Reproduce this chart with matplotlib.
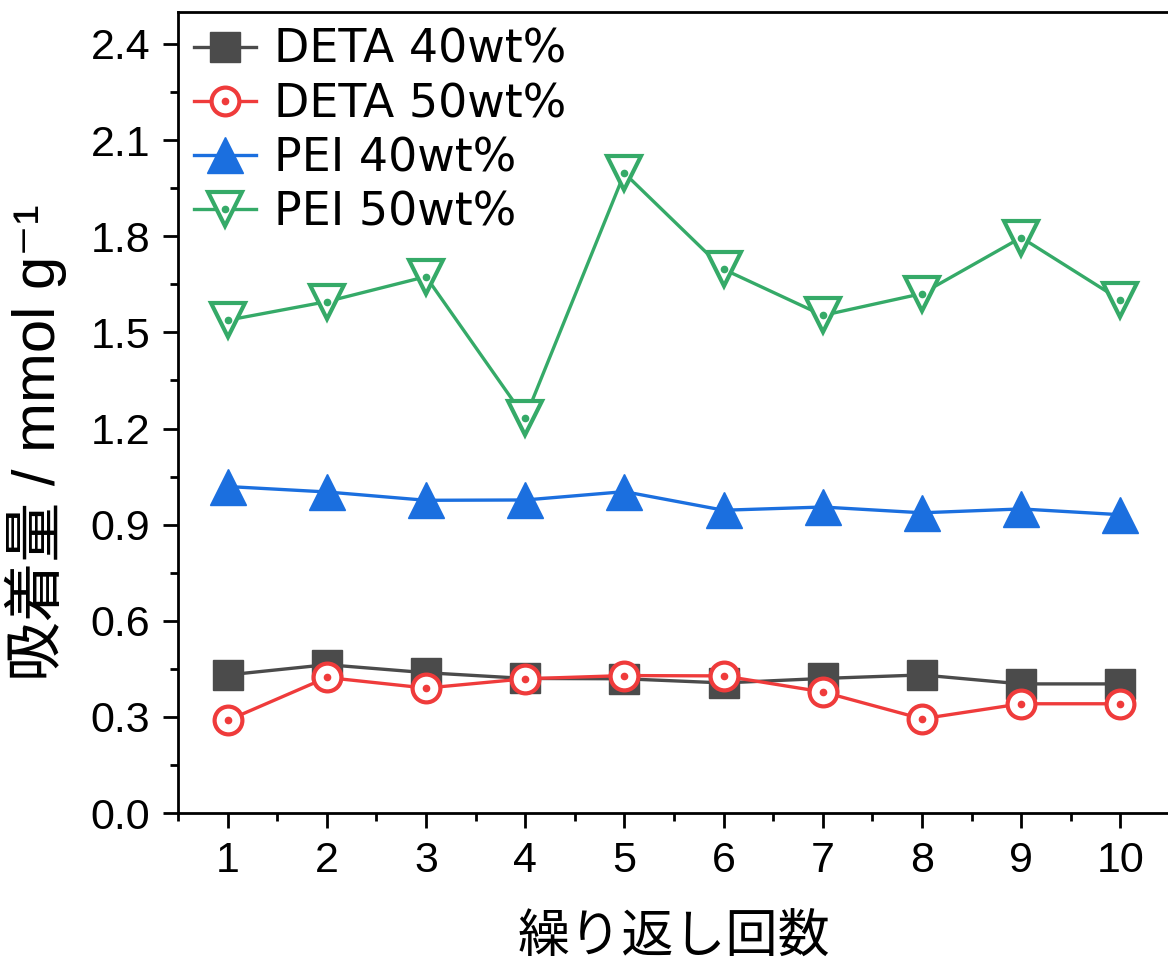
import numpy as np
import matplotlib
matplotlib.use("Agg")
import matplotlib.pyplot as plt
from matplotlib.ticker import MultipleLocator, AutoMinorLocator

# cycle number
cycles = [1, 2, 3, 4, 5, 6, 7, 8, 9, 10]

# adsorbed amount (mmol/g)
deta_40 = [0.431, 0.463, 0.438, 0.420, 0.419, 0.406, 0.420, 0.431, 0.403, 0.403]
deta_50 = [0.289, 0.423, 0.390, 0.419, 0.429, 0.428, 0.378, 0.294, 0.341, 0.341]
pei_40 = [1.019, 1.002, 0.976, 0.977, 1.003, 0.945, 0.955, 0.937, 0.949, 0.931]
pei_50 = [1.538, 1.596, 1.674, 1.233, 1.997, 1.697, 1.553, 1.621, 1.796, 1.601]

series_names = ["DETA 40wt%", "DETA 50wt%", "PEI 40wt%", "PEI 50wt%"]
yticks = [0.0, 0.3, 0.6, 0.9, 1.2, 1.5, 1.8, 2.1, 2.4]
xlabel = "繰り返し回数"
ylabel = "吸着量 / mmol g\u207b\u00b9"

GRAY = "#4b4b4b"
RED = "#ef3b3b"
BLUE = "#1b6fdf"
GREEN = "#35aa68"

fig = plt.figure(figsize=(11.68, 9.64), dpi=100)
ax = fig.add_axes([0.1524, 0.1566, 0.8493, 0.8310])

h1, = ax.plot(cycles, deta_40, color=GRAY, lw=2.4, marker="s", ms=21,
              mfc=GRAY, mec=GRAY, zorder=3)

h2, = ax.plot(cycles, deta_50, color=RED, lw=2.4, marker="o", ms=20,
              mfc="white", mec=RED, mew=3, zorder=4)
h2d, = ax.plot(cycles, deta_50, ls="none", marker="o", ms=4.5,
               mfc=RED, mec=RED, zorder=5)

h3, = ax.plot(cycles, pei_40, color=BLUE, lw=2.4, marker="^", ms=26,
              mfc=BLUE, mec=BLUE, zorder=3)

h4, = ax.plot(cycles, pei_50, color=GREEN, lw=2.4, marker="v", ms=24,
              mfc="white", mec=GREEN, mew=3, zorder=4)
h4d, = ax.plot(cycles, pei_50, ls="none", marker="o", ms=4.5,
               mfc=GREEN, mec=GREEN, zorder=5)

ax.set_xlim(0.5, 10.5)
ax.set_ylim(0, 2.5)
ax.xaxis.set_major_locator(MultipleLocator(1))
ax.xaxis.set_minor_locator(AutoMinorLocator(2))
ax.set_yticks(yticks)
ax.set_yticklabels([f"{v:.1f}" for v in yticks])
ax.yaxis.set_minor_locator(AutoMinorLocator(2))

ax.tick_params(which="major", direction="out", length=11, width=2,
               labelsize=31, pad=9)
ax.tick_params(which="minor", direction="out", length=5.5, width=2)
for lab in ax.get_xticklabels() + ax.get_yticklabels():
    lab.set_fontfamily(["Liberation Sans", "DejaVu Sans"])
for sp in ax.spines.values():
    sp.set_linewidth(2)

ax.set_xlabel(xlabel, fontsize=37.5, family=["Noto Sans CJK JP", "DejaVu Sans"],
              labelpad=22)
ax.set_ylabel(ylabel, fontsize=43,
              family=["Liberation Sans", "Noto Sans CJK JP", "DejaVu Sans"])
ax.yaxis.set_label_coords(-0.112, 0.462)

leg = ax.legend([h1, (h2, h2d), h3, (h4, h4d)], series_names,
                loc="upper left", frameon=False,
                prop={"family": "DejaVu Sans", "size": 33},
                handlelength=1.35, handletextpad=0.4, labelspacing=0.2,
                borderaxespad=0.0, borderpad=0.35, bbox_to_anchor=(0.0, 1.0))

fig.savefig("out.png", dpi=100)
